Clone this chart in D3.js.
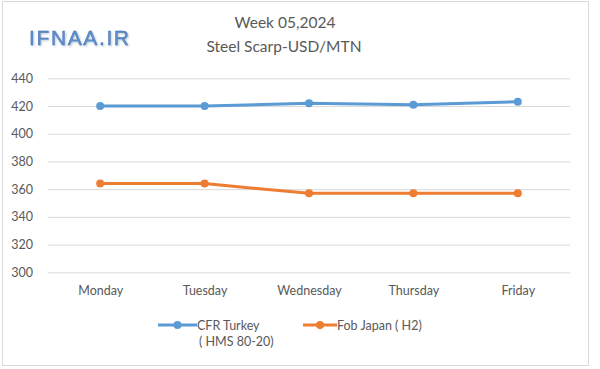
<!DOCTYPE html>
<html><head><meta charset="utf-8">
<script src="https://cdn.jsdelivr.net/npm/d3@7"></script>
<style>body{margin:0;background:#fff}svg{display:block}</style>
</head><body>
<script>
const days = ["Monday","Tuesday","Wednesday","Thursday","Friday"];
const cfrTurkey = [420, 420, 422, 421, 423];
const fobJapan = [364, 364, 357, 357, 357];
const yTicks = [300, 320, 340, 360, 380, 400, 420, 440];
const seriesNames = ["CFR Turkey", "Fob Japan ( H2)"];
const titleLines = ["Week 05,2024", "Steel Scarp-USD/MTN"];

const W = 600, H = 369;
const font = "Lato, 'Open Sans', sans-serif";
const svg = d3.select("body").append("svg").attr("width", W).attr("height", H);

svg.append("rect").attr("x", 2.5).attr("y", 1.5).attr("width", 586).attr("height", 364)
  .attr("fill", "#fff").attr("stroke", "#d9d9d9");

const x = d3.scalePoint().domain(days).range([48, 570]).padding(0.5);
const y = d3.scaleLinear().domain([300, 440]).range([272.3, 78.3]);

// gridlines
const yAxis = d3.axisLeft(y).tickValues(yTicks).tickSize(-(570 - 48)).tickPadding(15);
const gy = svg.append("g").attr("transform", "translate(48,0)").call(yAxis);
gy.select(".domain").remove();
gy.selectAll(".tick line").attr("stroke", "#d9d9d9").attr("stroke-width", 1);
gy.selectAll(".tick text").attr("fill", "#595959").attr("font-family", font).attr("font-size", 12.5);

const xAxis = d3.axisBottom(x).tickSize(0).tickPadding(14);
const gx = svg.append("g").attr("transform", "translate(0,272.3)").call(xAxis);
gx.select(".domain").remove();
gx.selectAll(".tick text").attr("fill", "#595959").attr("font-family", font).attr("font-size", 12.5);

const series = [
  {name: seriesNames[0], values: cfrTurkey, color: "#5b9bd5"},
  {name: seriesNames[1], values: fobJapan, color: "#ed7d31"}
];
const line = d3.line().x((d, i) => x(days[i])).y(d => y(d));
series.forEach(s => {
  svg.append("path").datum(s.values).attr("d", line).attr("fill", "none")
    .attr("stroke", s.color).attr("stroke-width", 3).attr("stroke-linejoin", "round");
  svg.selectAll(null).data(s.values).enter().append("circle")
    .attr("cx", (d, i) => x(days[i])).attr("cy", d => y(d)).attr("r", 4).attr("fill", s.color);
});

// title
svg.append("text").attr("x", 285).attr("y", 28).attr("text-anchor", "middle")
  .attr("fill", "#595959").attr("font-family", font).attr("font-size", 15.5).text(titleLines[0]);
svg.append("text").attr("x", 284).attr("y", 52).attr("text-anchor", "middle")
  .attr("fill", "#595959").attr("font-family", font).attr("font-size", 15.5).text(titleLines[1]);

// logo
const defs = svg.append("defs");
const f = defs.append("filter").attr("id", "glow");
f.append("feDropShadow").attr("dx", 1).attr("dy", 1).attr("stdDeviation", 0.8).attr("flood-color", "#9ab").attr("flood-opacity", 0.7);
svg.append("text").attr("x", 29).attr("y", 45).attr("fill", "#5a8fd2").attr("stroke", "#3f6fae").attr("stroke-width", 0.4)
  .attr("font-family", "'Liberation Sans', Arial, sans-serif").attr("font-size", 21)
  .attr("textLength", 100).attr("filter", "url(#glow)").text("IFNAA.IR");

// legend
const leg = [
  {x1: 158, x2: 197, tx: 197, lines: ["CFR Turkey", "( HMS 80-20)"], color: series[0].color},
  {x1: 303, x2: 337, tx: 337, lines: ["Fob Japan ( H2)"], color: series[1].color}
];
leg.forEach(l => {
  svg.append("line").attr("x1", l.x1).attr("x2", l.x2).attr("y1", 325).attr("y2", 325)
    .attr("stroke", l.color).attr("stroke-width", 3);
  svg.append("circle").attr("cx", (l.x1 + l.x2) / 2).attr("cy", 325).attr("r", 4).attr("fill", l.color);
  l.lines.forEach((t, i) => {
    svg.append("text").attr("x", l.tx + (i ? 2 : 0)).attr("y", 330 + i * 16)
      .attr("fill", "#595959").attr("font-family", font).attr("font-size", 12.5).text(t);
  });
});
</script>
</body></html>
